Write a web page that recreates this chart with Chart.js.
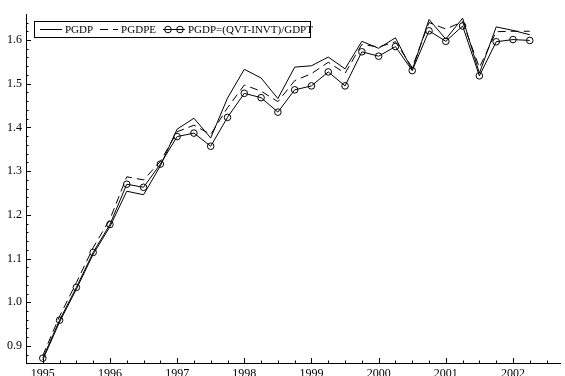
<!DOCTYPE html>
<html>
<head>
<meta charset="utf-8">
<script src="https://cdn.jsdelivr.net/npm/chart.js@4/dist/chart.umd.min.js"></script>
<style>
  html, body { margin: 0; padding: 0; background: #fff; overflow: hidden; }
  #wrap { width: 565px; height: 376px; }
</style>
</head>
<body>
<div id="wrap"><canvas id="c" width="565" height="376"></canvas></div>
<script>
// Quarterly observations, 1995Q1 - 2002Q2
const quarters = [
  1995.00, 1995.25, 1995.50, 1995.75,
  1996.00, 1996.25, 1996.50, 1996.75,
  1997.00, 1997.25, 1997.50, 1997.75,
  1998.00, 1998.25, 1998.50, 1998.75,
  1999.00, 1999.25, 1999.50, 1999.75,
  2000.00, 2000.25, 2000.50, 2000.75,
  2001.00, 2001.25, 2001.50, 2001.75,
  2002.00, 2002.25
];

const pgdp = [
  0.868, 0.955, 1.030, 1.110,
  1.173, 1.254, 1.246, 1.312,
  1.396, 1.421, 1.376, 1.467,
  1.533, 1.513, 1.466, 1.538,
  1.541, 1.561, 1.534, 1.597,
  1.581, 1.605, 1.531, 1.647,
  1.602, 1.650, 1.524, 1.630,
  1.622, 1.612
];

const pgdpe = [
  0.878, 0.968, 1.045, 1.125,
  1.190, 1.287, 1.280, 1.322,
  1.390, 1.405, 1.384, 1.445,
  1.497, 1.483, 1.459, 1.507,
  1.523, 1.549, 1.524, 1.590,
  1.584, 1.596, 1.537, 1.640,
  1.625, 1.642, 1.537, 1.619,
  1.620, 1.620
];

const pgdpRatio = [
  0.872, 0.959, 1.034, 1.114,
  1.178, 1.270, 1.263, 1.316,
  1.379, 1.387, 1.357, 1.423,
  1.478, 1.468, 1.435, 1.486,
  1.495, 1.527, 1.495, 1.573,
  1.563, 1.585, 1.530, 1.621,
  1.597, 1.632, 1.518, 1.596,
  1.601, 1.599
];

const seriesLabels = ['PGDP', 'PGDPE', 'PGDP=(QVT-INVT)/GDPT'];
const yearTicks = [1995, 1996, 1997, 1998, 1999, 2000, 2001, 2002];
const valueTicks = [0.9, 1.0, 1.1, 1.2, 1.3, 1.4, 1.5, 1.6];

const FONT = "'Liberation Serif', 'Times New Roman', serif";
const toPoints = vals => quarters.map((q, i) => ({ x: q, y: vals[i] }));

// Inward major and minor tick marks on both axes
const innerTicks = {
  id: 'innerTicks',
  afterDatasetsDraw(chart) {
    const { ctx, chartArea: a, scales: { x, y } } = chart;
    ctx.save();
    ctx.strokeStyle = '#000';
    ctx.lineWidth = 1;
    ctx.beginPath();
    // x: majors on years, minors on quarters
    for (let t = Math.ceil(x.min * 4) / 4; t <= x.max + 1e-9; t += 0.25) {
      const px = Math.round(x.getPixelForValue(t)) + 0.5;
      const major = Math.abs(t - Math.round(t)) < 1e-6;
      ctx.moveTo(px, a.bottom);
      ctx.lineTo(px, a.bottom - (major ? 5 : 2.5));
    }
    // y: majors every 0.1, minors every 0.02
    for (let k = Math.ceil(y.min * 50); k <= Math.floor(y.max * 50); k++) {
      const v = k / 50;
      const py = Math.round(y.getPixelForValue(v)) + 0.5;
      const major = k % 5 === 0;
      ctx.moveTo(a.left, py);
      ctx.lineTo(a.left + (major ? 5 : 2.5), py);
    }
    ctx.stroke();
    ctx.restore();
  }
};

// Boxed legend in the upper left of the plot area
const boxLegend = {
  id: 'boxLegend',
  afterDraw(chart) {
    const { ctx, chartArea: a } = chart;
    const ds = chart.data.datasets;
    const sampleW = [22, 18, 22];
    ctx.save();
    ctx.font = '11px ' + FONT;
    ctx.fillStyle = '#000';
    ctx.strokeStyle = '#000';
    ctx.lineWidth = 1;
    ctx.textBaseline = 'middle';
    const left = a.left + 8, top = a.top + 7, h = 16, w = 276;
    const cy = top + h / 2;
    let xPos = left + 6;
    ds.forEach((d, i) => {
      ctx.save();
      ctx.setLineDash(d.borderDash || []);
      ctx.beginPath();
      ctx.moveTo(xPos, cy + 0.5);
      ctx.lineTo(xPos + sampleW[i], cy + 0.5);
      ctx.stroke();
      ctx.restore();
      if (d.pointRadius > 0) {
        [xPos + 5, xPos + sampleW[i] - 5].forEach(cx => {
          ctx.beginPath();
          ctx.arc(cx, cy + 0.5, d.pointRadius, 0, Math.PI * 2);
          ctx.stroke();
        });
      }
      xPos += sampleW[i] + 3;
      ctx.fillText(d.label, xPos, cy + 1);
      xPos += ctx.measureText(d.label).width + 7;
    });
    ctx.strokeRect(left + 0.5, top + 0.5, w, h);
    ctx.restore();
  }
};

const chart = new Chart(document.getElementById('c'), {
  type: 'line',
  data: {
    datasets: [
      {
        label: seriesLabels[0],
        data: toPoints(pgdp),
        borderColor: '#000',
        borderWidth: 1,
        pointRadius: 0,
        tension: 0,
        fill: false
      },
      {
        label: seriesLabels[1],
        data: toPoints(pgdpe),
        borderColor: '#000',
        borderWidth: 1,
        borderDash: [8, 5],
        pointRadius: 0,
        tension: 0,
        fill: false
      },
      {
        label: seriesLabels[2],
        data: toPoints(pgdpRatio),
        borderColor: '#000',
        borderWidth: 1,
        pointRadius: 3.3,
        pointBorderWidth: 1,
        pointBorderColor: '#000',
        pointBackgroundColor: 'rgba(0,0,0,0)',
        tension: 0,
        fill: false
      }
    ]
  },
  options: {
    responsive: false,
    animation: false,
    devicePixelRatio: 1,
    layout: { padding: { top: 14, right: 0, left: 0, bottom: 0 } },
    plugins: { legend: { display: false }, tooltip: { enabled: false } },
    scales: {
      x: {
        type: 'linear',
        min: 1994.75,
        max: 2002.7,
        afterBuildTicks: s => { s.ticks = yearTicks.map(v => ({ value: v })); },
        afterFit: s => { s.height = 13; },
        grid: { display: false, drawTicks: false },
        border: { display: true, color: '#000', width: 1 },
        ticks: {
          color: '#000',
          padding: 4,
          maxRotation: 0,
          autoSkip: false,
          font: { family: FONT, size: 12 },
          callback: v => String(v)
        }
      },
      y: {
        type: 'linear',
        min: 0.861,
        max: 1.6595,
        afterBuildTicks: s => { s.ticks = valueTicks.map(v => ({ value: v })); },
        afterFit: s => { s.width = 26; },
        grid: { display: false, drawTicks: false },
        border: { display: true, color: '#000', width: 1 },
        ticks: {
          color: '#000',
          padding: 4,
          autoSkip: false,
          font: { family: FONT, size: 12 },
          callback: v => Number(v).toFixed(1)
        }
      }
    }
  },
  plugins: [innerTicks, boxLegend]
});
</script>
</body>
</html>
